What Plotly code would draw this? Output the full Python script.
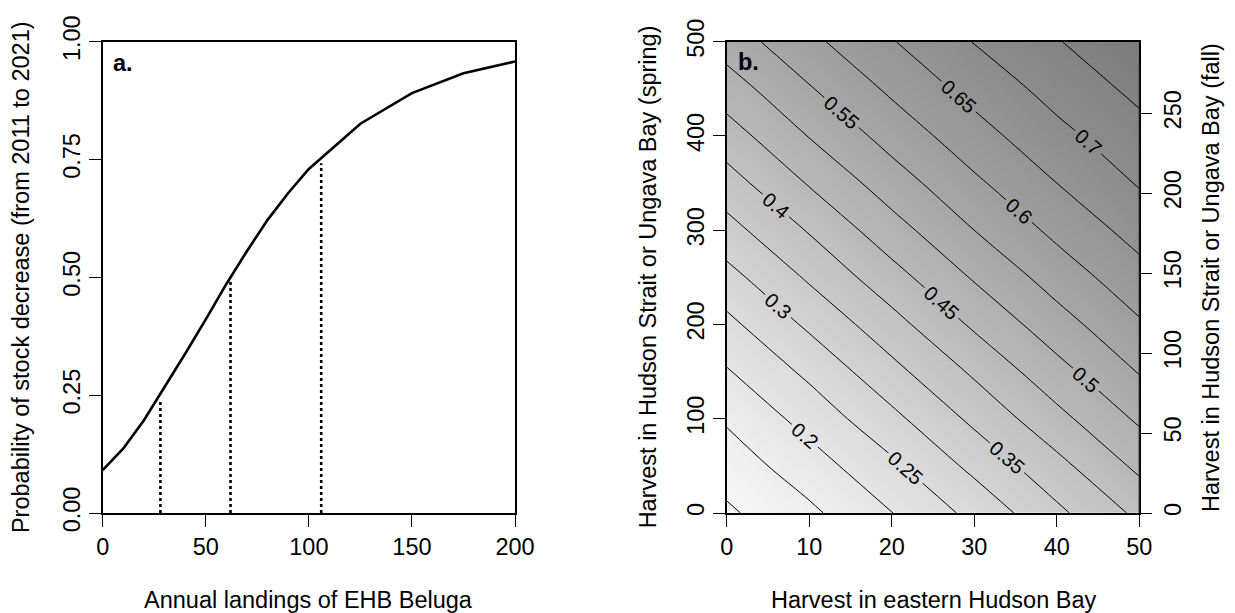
import plotly.graph_objects as go

# ---------------- Panel a data ----------------
landings = [0, 10, 20, 30, 40, 50, 60, 70, 80, 90, 100, 125, 150, 175, 200]
prob_decrease = [0.091, 0.137, 0.197, 0.267, 0.338, 0.411, 0.486, 0.556, 0.622,
                 0.679, 0.730, 0.826, 0.891, 0.933, 0.958]
ref_landings = [28, 62, 106]
ref_probs = [0.25, 0.50, 0.75]

# ---------------- Panel b data ----------------
ehb_harvest = [0, 10, 20, 30, 40, 50]
hs_spring_harvest = [0, 50, 100, 150, 200, 250, 300, 350, 400, 450, 500]
# rows follow hs_spring_harvest, columns follow ehb_harvest
prob_grid = [
    [0.092, 0.140, 0.199, 0.264, 0.339, 0.411],
    [0.123, 0.177, 0.240, 0.313, 0.385, 0.461],
    [0.156, 0.218, 0.287, 0.361, 0.435, 0.508],
    [0.196, 0.261, 0.335, 0.408, 0.483, 0.553],
    [0.237, 0.309, 0.382, 0.458, 0.529, 0.594],
    [0.283, 0.357, 0.431, 0.505, 0.572, 0.632],
    [0.332, 0.404, 0.480, 0.550, 0.612, 0.669],
    [0.379, 0.454, 0.526, 0.591, 0.650, 0.704],
    [0.427, 0.502, 0.569, 0.630, 0.686, 0.733],
    [0.476, 0.546, 0.609, 0.667, 0.718, 0.762],
    [0.523, 0.588, 0.647, 0.702, 0.747, 0.791],
]
fall_ticks = [0, 50, 100, 150, 200, 250]
fall_range_top = 294.8
fall_line_top = 282

FONT = "Liberation Sans"
FS = 23.5
W, H = 1235, 613

fig = go.Figure()

# Panel a: curve
fig.add_trace(go.Scatter(x=landings, y=prob_decrease, mode="lines",
                         line=dict(color="black", width=2.6),
                         xaxis="x", yaxis="y", hoverinfo="skip", showlegend=False))
# dotted reference lines
dx, dy = [], []
for lx, py in zip(ref_landings, ref_probs):
    dx += [lx, lx, None]
    dy += [0, py - 0.008, None]
fig.add_trace(go.Scatter(x=dx, y=dy, mode="lines",
                         line=dict(color="black", width=2.6, dash="dot"),
                         xaxis="x", yaxis="y", hoverinfo="skip", showlegend=False))

# Panel b: gray background
fig.add_trace(go.Heatmap(x=ehb_harvest, y=hs_spring_harvest, z=prob_grid,
                         zsmooth="best", zmin=0.09, zmax=0.79,
                         colorscale=[[0, "rgb(248,248,248)"], [1, "rgb(124,124,124)"]],
                         showscale=False, hoverinfo="skip",
                         xaxis="x2", yaxis="y2"))
# contour lines
fig.add_trace(go.Contour(x=ehb_harvest, y=hs_spring_harvest, z=prob_grid,
                         autocontour=False,
                         contours=dict(start=0.10, end=0.75, size=0.05,
                                       coloring="none", showlabels=True,
                                       labelfont=dict(family=FONT, size=20, color="black"),
                                       labelformat=".2~f"),
                         line=dict(color="black", width=1),
                         showscale=False, hoverinfo="skip",
                         xaxis="x2", yaxis="y2"))
# dummy trace for right (fall) axis
fig.add_trace(go.Scatter(x=[0], y=[0], mode="markers", marker=dict(opacity=0),
                         xaxis="x2", yaxis="y3", hoverinfo="skip", showlegend=False))

xl = (102.7 / W, 515.0 / W)
xr = (726.7 / W, 1139.3 / W)
yd = (1 - 513.0 / H, 1 - 41.7 / H)

axis_common = dict(showline=True, linecolor="black", linewidth=1.5,
                   ticks="outside", ticklen=12, tickwidth=1.3, tickcolor="black",
                   tickfont=dict(family=FONT, size=FS, color="black"),
                   showgrid=False, zeroline=False, automargin=False)

fig.update_layout(
    width=W, height=H,
    margin=dict(l=0, r=0, t=0, b=0, autoexpand=False),
    paper_bgcolor="white", plot_bgcolor="white",
    showlegend=False,
    xaxis=dict(domain=xl, range=[0, 200], tickvals=[0, 50, 100, 150, 200],
               mirror=True, anchor="y", **axis_common),
    yaxis=dict(domain=yd, range=[0, 1], tickvals=[0, 0.25, 0.5, 0.75, 1.0],
               tickformat=".2f", tickangle=-90, mirror=True, anchor="x", **axis_common),
    xaxis2=dict(domain=xr, range=[0, 50], tickvals=[0, 10, 20, 30, 40, 50],
                mirror=True, anchor="y2", **axis_common),
    yaxis2=dict(domain=yd, range=[0, 500], tickvals=[0, 100, 200, 300, 400, 500],
                tickangle=-90, mirror=True, anchor="x2", **axis_common),
    yaxis3=dict(overlaying="y2", side="right", anchor="x2", range=[0, fall_range_top],
                tickvals=fall_ticks, tickangle=-90, automargin=False,
                showline=False, ticks="outside", ticklen=12, tickwidth=1.3,
                tickcolor="black", tickfont=dict(family=FONT, size=FS, color="black"),
                showgrid=False, zeroline=False),
)

fig.add_shape(type="line", xref="x2", yref="y3", x0=50, x1=50, y0=0, y1=fall_line_top,
              line=dict(color="#444", width=1.5))

title_font = dict(family=FONT, size=FS, color="black")
ann = [
    dict(text="Annual landings of EHB Beluga", x=(xl[0] + xl[1]) / 2, y=1 - 600 / H),
    dict(text="Harvest in eastern Hudson Bay", x=(xr[0] + xr[1]) / 2, y=1 - 600 / H),
    dict(text="Probability of stock decrease (from 2011 to 2021)", x=21.7 / W,
         y=(yd[0] + yd[1]) / 2, textangle=-90),
    dict(text="Harvest in Hudson Strait or Ungava Bay (spring)", x=648 / W,
         y=(yd[0] + yd[1]) / 2, textangle=-90),
    dict(text="Harvest in Hudson Strait or Ungava Bay (fall)", x=1211.7 / W,
         y=(yd[0] + yd[1]) / 2, textangle=-90),
]
for a in ann:
    fig.add_annotation(xref="paper", yref="paper", showarrow=False,
                       xanchor="center", yanchor="middle", font=title_font, **a)

fig.add_annotation(text="<b>a.</b>", xref="paper", yref="paper", x=111 / W, y=1 - 63 / H,
                   xanchor="left", yanchor="middle", showarrow=False,
                   font=dict(family=FONT, size=FS, color="black"))
fig.add_annotation(text="<b>b.</b>", xref="paper", yref="paper", x=736 / W, y=1 - 62 / H,
                   xanchor="left", yanchor="middle", showarrow=False,
                   font=dict(family=FONT, size=FS, color="black"))

fig.write_html("out.html")
